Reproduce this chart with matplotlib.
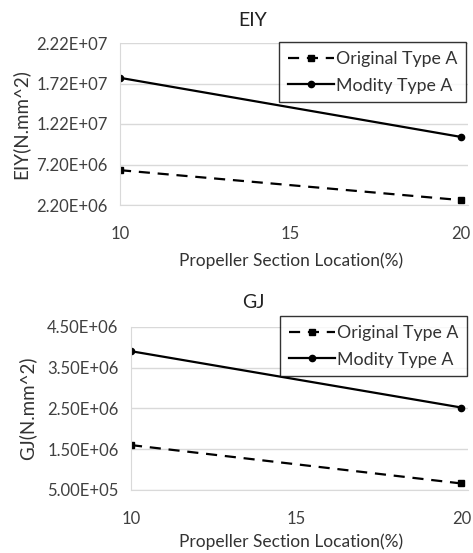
import matplotlib
matplotlib.use("Agg")
import matplotlib.pyplot as plt

plt.rcParams['font.family'] = ['Lato', 'DejaVu Sans']

x = [10, 20]
eiy_original = [6.5e6, 2.8e6]
eiy_modify = [1.79e7, 1.06e7]
gj_original = [1.60e6, 6.6e5]
gj_modify = [3.90e6, 2.52e6]

eiy_ticks = [2.2e6, 7.2e6, 1.22e7, 1.72e7, 2.22e7]
gj_ticks = [5.0e5, 1.5e6, 2.5e6, 3.5e6, 4.5e6]

W, H = 473, 553
fig = plt.figure(figsize=(W / 100, H / 100), dpi=100)


def draw(rect, title, ylabel, orig, mod, yticks, legend_box, title_y, xlabel_y, ylabel_x):
    ax = fig.add_axes(rect)
    ax.plot(x, orig, color="black", lw=1.6, ls=(0, (5, 3.5)), marker="s", ms=4.5,
            label="Original Type A")
    ax.plot(x, mod, color="black", lw=1.6, marker="o", ms=4.5,
            label="Modity Type A")
    ax.set_xlim(10, 20.2)
    ax.set_ylim(yticks[0], yticks[-1])
    ax.set_xticks([10, 15, 20])
    ax.set_yticks(yticks)
    ax.set_yticklabels([("%.2E" % v) for v in yticks])
    ax.grid(axis="y", color="#d9d9d9", lw=1)
    for s in ["top", "right"]:
        ax.spines[s].set_visible(False)
    for s in ["left", "bottom"]:
        ax.spines[s].set_color("#d9d9d9")
    ax.tick_params(length=0, labelsize=12, colors="#404040")
    ax.tick_params(axis="y", pad=9)
    ax.tick_params(axis="x", pad=15)
    fig.text(0.535, title_y, title, ha="center", va="center", fontsize=14, color="#222222")
    fig.text(291 / W, xlabel_y, "Propeller Section Location(%)", ha="center", va="center",
             fontsize=12.5, color="#333333")
    fig.text(ylabel_x, rect[1] + rect[3] / 2, ylabel, rotation=90, ha="center",
             va="center", fontsize=13.5, color="#333333")
    leg = fig.legend(handles=ax.get_lines(), loc="upper left", bbox_to_anchor=legend_box,
                     frameon=True, fancybox=False, edgecolor="black", fontsize=12.8,
                     handlelength=2.6, handletextpad=0.1, borderpad=0.5,
                     labelspacing=0.6, borderaxespad=0)
    leg.get_frame().set_linewidth(1.0)
    for t in leg.get_texts():
        t.set_color("#333333")
    return ax


draw([120 / W, 1 - 205 / H, 348 / W, 162 / H], "EIY", "EIY(N.mm^2)",
     eiy_original, eiy_modify, eiy_ticks, (279 / W, 1 - 42 / H),
     1 - 20 / H, 1 - 261 / H, 20 / W)
draw([131 / W, 1 - 490 / H, 337 / W, 163.3 / H], "GJ", "GJ(N.mm^2)",
     gj_original, gj_modify, gj_ticks, (280 / W, 1 - 316 / H),
     1 - 303 / H, 1 - 542 / H, 27 / W)

fig.savefig("out.png", dpi=100)
